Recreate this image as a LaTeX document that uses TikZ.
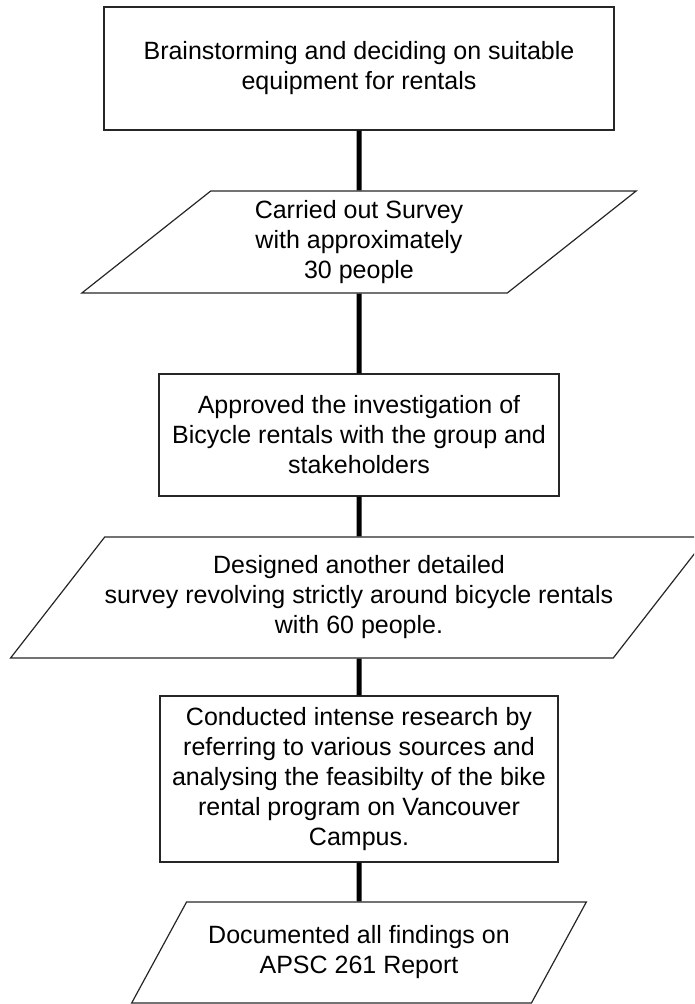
\documentclass[tikz,border=0pt]{standalone}
\usepackage{fontspec}
\setmainfont{Liberation Sans}
\usetikzlibrary{shapes.geometric}

\begin{document}
\begin{tikzpicture}[x=1pt, y=-1pt,
    caja/.style={draw=black!85, line width=1.2pt, align=center, inner sep=0pt,
      font=\fontsize{25}{30}\selectfont},
    paralelo/.style={caja, trapezium, trapezium stretches=true},
    enlace/.style={line width=5pt}]
  \clip (0,0) rectangle (694,1004);

  % Cajas
  \node[caja, minimum width=510pt, minimum height=123pt] (ideas) at (359,68.5)
    {Brainstorming and deciding on suitable\\equipment for rentals};
  \node[caja, minimum width=400pt, minimum height=122pt] (aprobado) at (359,435)
    {Approved the investigation of\\Bicycle rentals with the group and\\stakeholders};
  \node[caja, minimum width=398pt, minimum height=166pt] (investigacion) at (359,779)
    {Conducted intense research by\\referring to various sources and\\analysing the feasibilty of the bike\\rental program on Vancouver\\Campus.};

  % Paralelogramos
  \node[paralelo, trapezium left angle=42.6, trapezium right angle=137.4,
    minimum width=555pt, minimum height=102pt] (encuesta) at (359,242)
    {Carried out Survey\\with approximately\\30 people};
  \node[paralelo, trapezium left angle=41.5, trapezium right angle=138.5,
    minimum width=693pt, minimum height=121pt] (encuesta2) at (359,597.5)
    {Designed another detailed\\survey revolving strictly around bicycle rentals\\with 60 people.};
  \node[paralelo, trapezium left angle=48, trapezium right angle=132,
    minimum width=457pt, minimum height=101pt] (informe) at (359,952.5)
    {Documented all findings on\\APSC 261 Report};

  % Conectores
  \draw[enlace] (ideas) -- (encuesta);
  \draw[enlace] (encuesta) -- (aprobado);
  \draw[enlace] (aprobado) -- (encuesta2);
  \draw[enlace] (encuesta2) -- (investigacion);
  \draw[enlace] (investigacion) -- (informe);
\end{tikzpicture}
\end{document}
